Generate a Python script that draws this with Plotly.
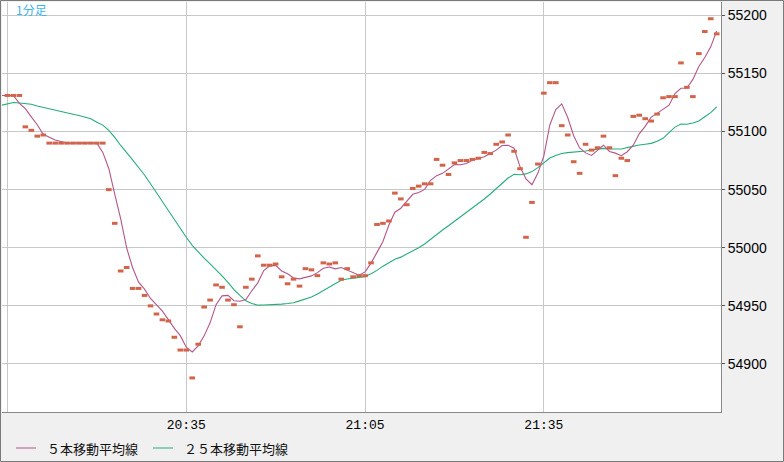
import datetime as dt
import pandas as pd
import plotly.graph_objects as go

# ---------------- data ----------------
start_time = "2024-01-01 20:05"
closes = [
    55131, 55131, 55131, 55104, 55101, 55096, 55097, 55090, 55090, 55090,
    55090, 55090, 55090, 55090, 55090, 55090, 55090, 55050, 55021, 54980,
    54983, 54965, 54965, 54959, 54950, 54943, 54938, 54937, 54923, 54912,
    54912, 54888, 54917, 54949, 54955, 54968, 54966, 54955, 54951, 54932,
    54966, 54973, 54993, 54985, 54985, 54986, 54975, 54969, 54973, 54967,
    54982, 54981, 54976, 54987, 54986, 54987, 54973, 54982, 54975, 54976,
    54976, 54987, 55020, 55021, 55023, 55047, 55042, 55037, 55051, 55053,
    55055, 55055, 55076, 55071, 55063, 55073, 55075, 55075, 55076, 55077,
    55082, 55081, 55089, 55091, 55097, 55083, 55068, 55009, 55039, 55072,
    55133, 55142, 55142, 55105, 55097, 55074, 55064, 55089, 55084, 55086,
    55096, 55086, 55062, 55077, 55075, 55113, 55114, 55111, 55109, 55115,
    55129, 55130, 55130, 55159, 55138, 55130, 55167, 55186, 55197, 55184,
]
latest_price = 55199          # forming bar (only visible through the averages)
ma25_head = [                 # 25-bar average before enough bars are on screen
    55122.6, 55124.0, 55124.9, 55124.5, 55124.0, 55123.4, 55122.0, 55120.7,
    55119.4, 55118.2, 55117.0, 55116.0, 55114.8, 55113.7, 55112.5, 55110.9,
    55108.0, 55105.5, 55101.0, 55095.0, 55088.0, 55082.0, 55075.6, 55069.0,
]
y_ticks = [54900, 54950, 55000, 55050, 55100, 55150, 55200]
x_tick_times = ["20:05", "20:35", "21:05", "21:35"]
x_tick_text = ["", "20:35", "21:05", "21:35"]
title_text = "1分足"
legend_names = ["５本移動平均線", "２５本移動平均線"]

# ---------------- derived series ----------------
t0 = pd.Timestamp(start_time)
bar_times = [t0 + pd.Timedelta(minutes=i) for i in range(len(closes))]
all_prices = pd.Series(closes + [latest_price], dtype=float)
ma5 = all_prices.rolling(5, min_periods=1).mean().tolist()
ma25_calc = all_prices.rolling(25).mean().tolist()
ma25 = ma25_head + ma25_calc[len(ma25_head):]
# averages are drawn one slot to the left of the close markers
ma_times = [t0 + pd.Timedelta(minutes=j - 1) for j in range(len(all_prices))]

# ---------------- style ----------------
W, H = 784, 462
L, R, T, B = 2, 63, 2, 50
PW, PH = W - L - R, H - T - B
C_MARK = "#d2644b"
C_MA5 = "#b4568a"
C_MA25 = "#27ad78"
C_GRID = "#c8c8c8"
C_BG = "#f0f0f0"
NUM_FONT = dict(family="Liberation Sans, Arial, sans-serif", size=14, color="#000000")
JP_FONT = "Noto Sans CJK JP, sans-serif"


def px_x(px):
    return (px - L) / PW


def px_y(py):
    return (H - B - py) / PH


fig = go.Figure()
fig.add_trace(go.Scatter(
    x=ma_times, y=ma25, mode="lines", name=legend_names[1],
    line=dict(color=C_MA25, width=1.1), showlegend=False, hoverinfo="skip"))
fig.add_trace(go.Scatter(
    x=ma_times, y=ma5, mode="lines", name=legend_names[0],
    line=dict(color=C_MA5, width=1.1), showlegend=False, hoverinfo="skip"))
fig.add_trace(go.Scatter(
    x=bar_times, y=closes, mode="markers", name="close",
    marker=dict(symbol="line-ew", size=4, line=dict(color=C_MARK, width=3)),
    showlegend=False))

x_lo = t0 - pd.Timedelta(seconds=55)
x_hi = t0 + pd.Timedelta(minutes=119.72)
tickvals_x = [pd.Timestamp(start_time[:11] + s) for s in x_tick_times]

fig.update_layout(
    width=W, height=H,
    margin=dict(l=L, r=R, t=T, b=B, pad=0),
    paper_bgcolor=C_BG, plot_bgcolor="#ffffff",
    showlegend=False,
    xaxis=dict(
        type="date", range=[x_lo, x_hi],
        tickvals=tickvals_x, ticktext=x_tick_text,
        showgrid=True, gridcolor=C_GRID, gridwidth=1,
        showline=True, linecolor="#888888", linewidth=1,
        ticks="", tickfont=dict(family="Liberation Mono, monospace", size=13, color="#000"),
        zeroline=False, fixedrange=True,
    ),
    yaxis=dict(
        side="right", range=[54858.7, 55211.4],
        tickvals=y_ticks, ticktext=[str(v) for v in y_ticks],
        showgrid=True, gridcolor=C_GRID, gridwidth=1,
        showline=True, linecolor="#888888", linewidth=1,
        ticks="outside", ticklen=3, tickcolor="#555555", tickwidth=1,
        tickfont=NUM_FONT, zeroline=False, fixedrange=True,
    ),
)

# outer frame
fig.add_shape(type="rect", xref="paper", yref="paper",
              x0=px_x(0.5), x1=px_x(W - 0.5), y0=px_y(H - 0.5), y1=px_y(0.5),
              line=dict(color="#7a7a7a", width=1), layer="above")

# title annotation
fig.add_annotation(text=title_text, xref="paper", yref="paper",
                   x=px_x(14), y=px_y(9), xanchor="left", yanchor="middle",
                   showarrow=False, font=dict(family=JP_FONT, size=12, color="#3db5e8"))

# manual legend
legend_items = [(16, 36, 45, C_MA5, legend_names[0]),
                (153, 173, 182, C_MA25, legend_names[1])]
for sx0, sx1, tx, col, name in legend_items:
    fig.add_shape(type="line", xref="paper", yref="paper",
                  x0=px_x(sx0), x1=px_x(sx1), y0=px_y(448), y1=px_y(448),
                  line=dict(color=col, width=1))
    fig.add_annotation(text=name, xref="paper", yref="paper",
                       x=px_x(tx), y=px_y(448), xanchor="left", yanchor="middle",
                       showarrow=False, font=dict(family=JP_FONT, size=13, color="#111111"))

fig.write_html("out.html", config={"displayModeBar": False},
               post_script="document.body.style.margin='0';")
